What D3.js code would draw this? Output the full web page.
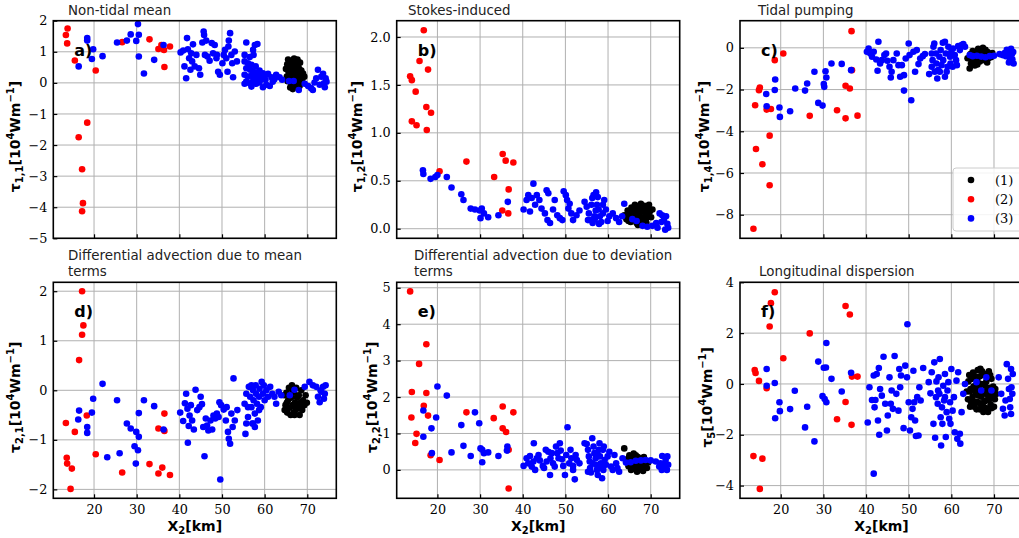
<!DOCTYPE html>
<html>
<head>
<meta charset="utf-8">
<script src="https://cdn.jsdelivr.net/npm/d3@7"></script>
<style>
  body { margin: 0; background: #fff; overflow: hidden; }
</style>
</head>
<body>
<div id="chart"></div>
<script>
// Six scatter panels of transport terms vs. X2 (km), groups (1) black, (2) red, (3) blue

const xTicks = [20, 30, 40, 50, 60, 70];
const groupLabels = ["(1)", "(2)", "(3)"];
const groupColors = ["#000000", "#ff0000", "#0000ff"];

// ---- panel a: non-tidal mean ----
const aBlack = [[65.0,0.45],[65.2,0.2],[65.3,0.6],[65.5,0.75],[65.6,0.35],[65.8,0.05],[65.9,0.55],[66.0,-0.15],[66.1,0.25],[66.3,0.7],[66.4,0.45],[66.5,0.1],[66.6,-0.2],[66.7,0.6],[66.8,0.3],[66.9,0.78],[67.0,0.0],[67.1,0.5],[67.2,0.2],[67.3,0.68],[67.4,-0.1],[67.5,0.4],[67.6,0.1],[67.7,0.75],[67.8,0.55],[67.9,0.25],[68.0,0.0],[68.1,0.45],[68.3,0.65],[68.4,0.2],[68.6,0.4],[68.8,0.1],[69.0,0.3],[69.3,0.2],[68.2,-0.1],[66.2,0.0],[65.4,0.05]];
const aRed = [[13.4,1.54],[13.8,1.75],[13.7,1.27],[15.5,0.72],[20.4,0.40],[16.4,-1.75],[18.4,-1.28],[17.2,-2.78],[17.4,-3.87],[17.2,-4.13],[26.6,1.31],[33.0,1.40],[35.1,1.09],[36.4,1.06],[36.5,0.51],[37.8,1.17],[35.8,1.22]];
const aBlue = [[16.4,0.53],[18.4,1.44],[18.4,1.36],[19.8,1.08],[19.5,0.77],[22.0,0.86],[25.4,1.30],[27.7,1.36],[28.6,1.56],[29.9,1.35],[30.3,1.89],[30.5,1.55],[30.5,0.85],[31.7,0.30],[34.1,0.74],[36.3,1.22],
  [40.3,0.98],[40.9,1.04],[41.2,0.53],[41.6,0.15],[41.8,1.44],[42.0,1.08],[42.3,0.79],[42.6,0.42],[42.8,0.95],[43.0,0.69],[43.2,1.24],[43.6,0.53],[44.0,0.90],[44.6,0.47],[44.9,0.26],[45.4,1.30],[45.7,1.65],[45.8,1.54],[46.0,0.90],[46.3,1.36],[46.6,0.85],[47.1,0.71],[47.6,1.28],[47.9,0.95],[48.3,1.22],[48.7,0.79],[48.8,0.90],[49.1,0.36],[49.5,0.26],[50.1,0.63],[50.4,0.90],[50.7,1.06],[51.0,0.79],[51.3,0.36],[51.5,1.17],[51.6,1.36],[51.9,1.60],[52.2,0.90],[52.4,0.63],[52.6,0.18],[53.0,1.01],[53.5,0.69],
  [55.7,1.30],[57.7,1.22],[58.3,1.25],[57.3,1.06],[57.4,0.90],[56.5,0.83],[55.3,0.69],[56.1,0.63],[56.9,0.58],[57.9,0.53],[55.7,0.47],[56.6,0.42],[57.3,0.36],[58.0,0.33],[58.8,0.40],[59.6,0.31],[55.3,0.26],[56.1,0.20],[56.9,0.23],[57.7,0.15],[58.4,0.18],[59.2,0.12],[60.0,0.23],[60.8,0.29],[61.6,0.18],[62.3,0.12],[55.7,0.04],[56.5,-0.01],[57.3,0.06],[58.0,-0.03],[58.8,0.01],[59.6,-0.14],[60.4,-0.06],[61.2,-0.10],[55.3,-0.03],[57.7,0.29],[58.2,0.04],[56.9,-0.12],[59.0,0.26],[60.2,0.10],[61.9,0.04],[62.7,0.26],[63.5,0.18],[64.1,0.10],[55.3,0.90],
  [65.7,0.06],[66.8,0.06],[68.0,-0.23],[70.9,-0.17],[71.3,-0.23],[72.5,0.42],[72.1,0.15],[72.9,-0.06],[73.3,0.20],[73.7,0.29],[74.1,-0.14],[74.3,0.15],[74.5,0.04],[73.9,-0.01],[71.7,0.01],[70.2,-0.10],[69.4,-0.03]];

// ---- panel b: Stokes-induced ----
const bBlack = [[63.8,0.14],[64.3,0.10],[64.6,0.19],[65.0,0.13],[65.3,0.07],[65.5,0.22],[65.8,0.16],[66.0,0.10],[66.3,0.25],[66.5,0.18],[66.7,0.06],[66.9,0.13],[67.1,0.22],[67.3,0.16],[67.5,0.09],[67.7,0.26],[67.9,0.19],[68.1,0.12],[68.3,0.05],[68.5,0.24],[68.7,0.17],[68.9,0.10],[69.1,0.21],[69.3,0.14],[69.6,0.25],[69.8,0.18],[70.1,0.12],[70.4,0.20],[66.2,0.20],[67.0,0.04],[68.0,0.22],[65.2,0.17],[64.8,0.08],[69.0,0.06]];
const bRed = [[16.8,2.07],[15.8,1.75],[17.8,1.66],[13.6,1.59],[14.0,1.55],[14.9,1.43],[17.4,1.27],[18.5,1.21],[14.0,1.12],[15.1,1.08],[17.5,1.03],[20.5,0.60],[26.8,0.70],[33.3,0.54],[35.3,0.78],[36.0,0.71],[37.8,0.69],[36.7,0.41],[35.2,0.19],[36.6,0.16]];
const bBlue = [[16.6,0.61],[16.7,0.57],[18.4,0.52],[19.5,0.54],[20.0,0.56],[22.2,0.54],[23.3,0.43],[25.6,0.36],[26.1,0.30],[27.8,0.21],[28.8,0.20],[29.9,0.19],[30.4,0.21],[30.1,0.11],[30.9,0.16],[31.9,0.12],[34.3,0.14],[36.5,0.28],
  [40.2,0.20],[41.7,0.18],[40.9,0.30],[41.3,0.35],[42.5,0.47],[42.1,0.32],[42.9,0.25],[43.3,0.35],[43.9,0.30],[44.4,0.21],[45.2,0.16],[45.6,0.40],[46.0,0.37],[45.8,0.09],[46.4,0.06],[47.1,0.20],[47.5,0.30],[48.1,0.14],[48.7,0.11],[49.3,0.09],[49.6,0.39],[50.1,0.35],[50.4,0.30],[51.0,0.26],[50.7,0.21],[51.4,0.16],[51.8,0.09],[52.6,0.14],[53.3,0.19],
  [54.5,0.28],[55.0,0.23],[55.5,0.16],[55.8,0.09],[56.3,0.32],[56.6,0.35],[57.2,0.38],[57.6,0.33],[57.4,0.25],[57.8,0.20],[58.1,0.13],[58.4,0.07],[56.8,0.13],[56.4,0.06],[55.3,0.09],[58.8,0.16],[59.5,0.20],[60.3,0.13],[61.1,0.16],[61.9,0.11],[62.6,0.07],[63.8,0.26],[63.3,0.13],[57.1,0.19],[56.1,0.25],[58.8,0.25],[59.1,0.30],[56.9,0.10],[57.9,0.05],[59.9,0.08],
  [65.7,0.10],[66.7,0.08],[68.1,0.03],[69.2,0.02],[70.4,0.03],[71.6,0.01],[72.1,0.16],[72.7,0.14],[73.1,0.09],[73.6,0.13],[73.9,0.05],[74.1,0.01],[72.5,0.07],[71.3,0.06],[73.4,-0.01]];

// ---- panel c: tidal pumping ----
const cBlack = [[63.8,-0.5],[64.3,-0.99],[64.5,-0.3],[64.8,-0.6],[65.0,-0.15],[65.3,-0.45],[65.6,-0.75],[65.8,-0.25],[66.0,-0.55],[66.3,-0.05],[66.5,-0.35],[66.7,-0.65],[67.0,-0.2],[67.2,-0.5],[67.4,0.0],[67.6,-0.3],[67.8,-0.6],[68.0,-0.1],[68.2,-0.4],[68.5,-0.2],[68.7,-0.5],[69.0,-0.3],[69.3,-0.45],[69.6,-0.25],[65.5,-0.85],[66.1,-0.8],[68.4,-0.7],[64.6,-0.75]];
const cRed = [[36.6,0.80],[20.6,-0.27],[18.6,-0.59],[15.1,-1.90],[14.9,-2.03],[14.0,-2.75],[16.7,-2.96],[17.7,-2.93],[17.4,-4.21],[14.2,-4.85],[15.7,-5.58],[17.4,-6.59],[13.6,-8.67],[26.8,-3.26],[33.2,-2.99],[35.2,-3.38],[35.2,-1.82],[36.2,-1.95],[38.0,-3.25],[36.7,-1.07]];
const cBlue = [[16.6,-2.21],[16.7,-2.80],[18.7,-1.52],[18.6,-2.02],[19.7,-2.86],[19.8,-3.31],[22.2,-3.04],[23.4,-1.95],[25.7,-2.05],[26.2,-1.71],[27.9,-1.15],[28.8,-2.64],[29.8,-2.77],[30.1,-1.74],[30.2,-1.87],[30.5,-1.12],[30.7,-1.42],[31.9,-0.75],[34.3,-0.77],[36.5,-1.07],
  [40.2,-0.19],[40.6,-0.03],[41.0,-0.27],[41.4,-0.43],[41.8,-0.19],[42.4,-0.56],[42.7,-1.10],[42.9,0.29],[43.3,-0.75],[43.7,-0.59],[44.3,-0.35],[44.7,-0.27],[45.0,-0.62],[45.5,-0.91],[45.8,-1.42],[46.0,-1.15],[46.4,-0.59],[47.2,-0.27],[47.6,-0.83],[48.0,-1.39],[48.4,-0.83],[48.9,-1.31],[48.9,-2.05],[49.3,-0.51],[50.0,0.21],[50.2,-0.35],[50.6,-2.51],[51.1,-0.19],[51.5,-1.15],[51.9,-0.11],[52.3,-0.78],[52.7,-0.51],[53.3,-0.40],[53.8,-0.30],
  [54.8,-1.26],[55.4,-0.91],[55.6,-0.59],[55.8,0.05],[56.0,0.21],[56.4,-0.27],[56.5,-0.75],[56.7,-1.47],[56.9,-1.07],[57.2,-0.43],[57.5,-0.11],[57.7,-0.83],[58.0,0.24],[58.1,-0.59],[58.5,0.29],[58.7,-0.27],[58.9,-1.15],[59.1,-0.91],[59.3,0.05],[59.7,-0.43],[59.8,-0.75],[60.0,-0.19],[60.4,-0.03],[60.8,-0.35],[61.1,-0.59],[61.6,0.08],[62.0,-0.11],[62.4,0.13],[62.8,0.18],[63.2,0.05],[61.3,-0.83],[58.5,-1.39],[57.3,-1.15],[56.1,-1.15],[55.4,-0.27],[60.3,-0.91],
  [64.3,-0.35],[65.0,-0.40],[66.0,-0.38],[67.0,-0.42],[68.0,-0.45],[69.0,-0.40],[70.0,-0.38],[71.3,-0.30],[72.0,-0.35],[72.5,-0.25],[73.0,-0.10],[73.3,-0.20],[73.6,-0.45],[73.8,-0.60],[74.0,-0.05],[74.2,-0.30],[74.5,-0.20],[74.6,-0.75],[73.5,-0.70],[72.8,-0.40],[74.3,-0.55]];

// ---- panel d: differential advection, mean terms ----
const dBlack = [[64.6,-0.1],[64.9,-0.3],[65.1,-0.05],[65.3,-0.45],[65.5,-0.2],[65.7,0.05],[65.9,-0.35],[66.1,-0.5],[66.2,-0.15],[66.4,0.1],[66.6,-0.3],[66.8,-0.45],[66.9,-0.05],[67.1,-0.25],[67.3,-0.4],[67.4,0.05],[67.6,-0.15],[67.8,-0.35],[68.0,-0.1],[68.2,-0.5],[68.4,-0.25],[68.6,0.0],[68.8,-0.4],[69.0,-0.2],[69.3,-0.3],[69.6,-0.1],[69.9,-0.25],[65.2,-0.25],[66.0,-0.1],[67.0,-0.5],[68.1,-0.3],[66.5,0.0],[64.7,-0.4]];
const dRed = [[17.2,2.0],[17.5,1.31],[17.2,1.12],[16.5,0.61],[18.3,-0.51],[13.4,-0.66],[15.5,-0.84],[13.6,-1.36],[13.7,-1.48],[14.8,-1.58],[14.5,-1.99],[20.4,-1.29],[26.6,-1.66],[33.0,-1.49],[35.1,-0.77],[35.1,-1.68],[36.0,-1.56],[36.5,-0.47],[36.5,-0.82],[37.8,-1.71]];
const dBlue = [[16.5,-0.41],[16.3,-0.59],[18.4,-0.74],[18.4,-0.86],[19.5,-0.45],[19.8,-0.17],[22.0,0.13],[23.1,-1.35],[25.4,-0.20],[26.0,-1.27],[27.7,-0.67],[28.6,-0.77],[29.5,-1.13],[29.9,-0.84],[30.5,-0.94],[29.8,-1.48],[30.3,-1.21],[30.5,-0.46],[31.7,-0.20],[34.1,-0.32],[36.3,-0.79],
  [40.2,-0.45],[40.9,-0.62],[41.3,-0.26],[41.6,-0.07],[41.9,-0.37],[42.0,-1.06],[42.2,-0.72],[42.4,-0.51],[42.7,-0.30],[43.0,-0.61],[43.4,-0.79],[43.8,0.01],[44.2,-0.40],[44.7,-0.34],[45.0,-0.13],[45.3,-0.28],[45.6,-0.74],[45.9,-1.33],[46.2,-0.57],[46.5,-0.71],[46.8,-0.81],[47.3,-0.61],[47.7,-0.79],[48.0,-0.51],[48.4,-0.57],[48.8,-0.47],[49.2,-0.54],[49.4,-0.24],[49.6,-1.80],[49.8,-0.30],[50.4,-0.39],[50.9,-0.61],[51.1,-0.34],[51.4,-0.84],[51.6,-0.98],[51.9,-1.08],[52.2,-0.47],[52.5,-0.74],[52.7,0.24],[53.0,-0.61],[53.6,-0.40],
  [55.5,-0.88],[55.3,-0.27],[55.7,-0.07],[56.1,-0.54],[56.3,0.07],[56.6,-0.13],[56.9,-0.34],[57.1,-0.67],[57.3,0.00],[57.4,-0.20],[57.7,-0.47],[57.9,0.10],[58.0,-0.07],[58.2,-0.27],[58.4,-0.61],[58.7,-0.13],[58.8,0.03],[59.1,-0.34],[59.3,0.17],[59.6,-0.07],[60.0,-0.20],[60.4,0.00],[60.8,-0.13],[61.3,0.07],[61.8,-0.07],[62.3,-0.13],[62.7,-0.27],[63.3,-0.03],[63.9,-0.10],[57.3,-0.67],[56.1,-0.34],[58.7,-0.40],[57.7,-0.74],[55.7,-0.67],[56.9,0.10],[59.8,0.10],
  [65.9,-0.10],[67.0,0.01],[70.5,0.17],[71.3,0.10],[72.1,0.07],[72.5,-0.13],[72.9,-0.24],[73.3,-0.03],[73.7,0.07],[74.1,-0.07],[74.3,0.10],[73.9,-0.17],[73.1,0.00],[69.4,0.07]];

// ---- panel e: differential advection, deviation terms ----
const eBlack = [[63.8,0.59],[64.6,0.3],[64.8,0.1],[65.0,0.4],[65.2,0.2],[65.4,0.0],[65.6,0.35],[65.8,0.15],[66.0,0.45],[66.2,0.05],[66.4,0.28],[66.6,0.12],[66.8,-0.05],[67.0,0.35],[67.2,0.18],[67.4,0.02],[67.6,0.3],[67.8,0.1],[68.0,0.22],[68.2,-0.03],[68.4,0.35],[68.6,0.12],[68.8,0.25],[69.1,0.05],[69.4,0.2],[65.5,0.25],[66.5,0.4],[67.5,0.15],[68.3,0.08],[66.9,0.22]];
const eRed = [[13.6,4.90],[17.4,3.45],[15.7,2.91],[14.0,2.14],[17.4,2.11],[16.8,1.76],[17.8,1.49],[13.9,1.44],[15.1,0.99],[14.8,0.74],[18.4,0.40],[20.5,0.27],[26.8,1.58],[33.2,1.42],[35.3,1.74],[35.3,1.14],[36.1,1.04],[36.7,0.55],[36.7,-0.51],[37.8,1.58]];
const eBlue = [[16.7,1.63],[16.7,0.91],[18.6,1.14],[18.7,0.46],[19.7,1.44],[20.0,2.29],[22.2,2.04],[23.3,0.48],[25.6,1.23],[26.1,0.66],[27.8,0.38],[28.8,1.58],[29.8,1.28],[30.1,0.59],[30.5,0.55],[30.5,0.21],[30.9,0.46],[31.9,0.48],[34.3,0.38],[36.4,0.64],[36.3,0.53],
  [40.2,0.11],[40.9,0.32],[41.3,0.18],[41.7,0.38],[42.1,0.09],[42.5,0.23],[42.6,0.73],[42.9,0.00],[43.3,0.32],[43.7,0.41],[44.0,0.26],[44.7,0.11],[45.0,0.05],[45.4,0.55],[45.6,0.23],[46.0,0.50],[46.4,-0.14],[46.5,0.32],[46.8,0.46],[47.1,0.18],[47.5,0.09],[47.8,0.64],[48.1,0.46],[48.4,0.32],[48.7,0.73],[48.9,0.53],[49.2,0.29],[49.5,0.11],[49.9,-0.14],[50.2,0.41],[50.5,1.17],[50.9,0.18],[51.2,0.55],[51.4,0.32],[51.8,0.11],[52.2,-0.26],[52.4,0.41],[52.7,0.27],[53.3,0.18],[51.8,0.00],
  [54.5,0.73],[55.0,0.71],[55.3,0.55],[55.5,0.37],[55.7,0.23],[55.8,0.05],[56.0,-0.07],[56.3,0.87],[56.6,0.64],[56.8,0.46],[57.1,0.32],[57.2,0.14],[57.4,0.00],[57.6,-0.14],[57.8,0.55],[58.0,0.73],[58.1,0.37],[58.3,0.18],[58.4,0.05],[58.6,-0.23],[58.8,0.55],[59.0,0.64],[59.2,0.27],[59.5,0.14],[59.9,0.37],[60.3,0.50],[60.7,0.09],[61.1,0.00],[61.5,0.41],[61.9,0.18],[62.2,0.05],[62.6,-0.05],[63.4,0.32],[56.4,0.18],[57.5,0.46],[58.9,0.00],[55.3,-0.05],
  [64.2,0.20],[65.3,0.21],[66.5,0.25],[67.7,0.26],[68.8,0.27],[70.0,0.26],[71.2,0.23],[72.0,0.09],[72.3,0.18],[72.7,0.38],[73.1,0.05],[73.5,0.27],[73.9,0.37],[74.1,0.14],[73.4,0.18],[72.6,0.00],[73.8,0.00]];

// ---- panel f: longitudinal dispersion ----
const fBlack = [[64.0,0.1],[64.3,-0.3],[64.6,-0.7],[64.8,0.2],[65.0,-0.5],[65.2,-0.1],[65.4,-0.9],[65.6,0.3],[65.8,-0.35],[66.0,-0.7],[66.2,0.55],[66.4,-0.15],[66.6,-1.0],[66.8,0.6],[67.0,-0.5],[67.1,0.0],[67.3,-0.8],[67.5,-1.1],[67.6,0.35],[67.8,-0.3],[68.0,-0.65],[68.2,0.1],[68.4,-1.0],[68.6,-0.45],[68.8,0.5],[69.0,-0.15],[69.2,-0.8],[69.4,0.2],[69.7,-0.5],[70.0,-0.9],[70.3,-0.2],[65.3,0.3],[66.3,-0.45],[67.9,-0.05],[69.5,-0.95],[64.5,-0.2],
  [63.6,-0.3],[63.9,-0.6],[64.2,0.35],[64.4,-0.9],[64.9,-0.25],[65.1,0.45],[65.3,-0.7],[65.7,-0.05],[65.9,-1.0],[66.1,0.15],[66.5,-0.75],[66.7,0.3],[66.9,-0.25],[67.2,0.5],[67.4,-0.4],[67.7,-0.7],[68.1,-0.95],[68.3,0.4],[68.5,-0.2],[68.9,-0.6],[69.1,0.35],[69.3,-0.35],[69.8,-0.1],[70.2,-0.6],[70.5,-0.4],[66.0,-0.2],[67.0,-0.95],[68.6,-1.1]];
const fRed = [[18.6,3.61],[17.7,3.18],[17.4,2.26],[13.9,0.55],[14.1,0.43],[14.9,0.12],[16.7,-0.17],[20.6,1.01],[26.8,1.99],[35.2,3.07],[36.2,2.73],[35.2,-0.71],[33.2,-1.39],[36.7,0.29],[38.0,0.29],[36.6,-1.61],[13.6,-2.84],[15.7,-2.94],[15.1,-4.13]];
const fBlue = [[16.7,0.59],[16.7,-0.07],[18.6,0.04],[18.7,-1.35],[19.7,-0.72],[19.8,-1.07],[22.2,-0.99],[23.3,-0.27],[25.7,-1.71],[26.2,-0.90],[27.9,-2.26],[28.8,0.88],[29.8,-0.48],[30.1,0.64],[30.6,0.65],[30.3,-0.59],[30.7,-0.72],[30.7,1.61],[31.9,0.20],[34.3,-0.30],[36.5,0.44],
  [40.4,-1.52],[40.8,-0.13],[41.4,-0.63],[41.8,0.33],[42.0,-0.92],[42.2,-0.63],[42.5,0.39],[42.8,-1.44],[43.0,0.63],[43.1,-2.00],[43.3,-0.20],[43.7,-0.46],[44.1,1.07],[44.5,-0.78],[44.9,-1.83],[45.1,-1.24],[45.5,0.26],[45.8,-0.78],[46.0,-0.26],[46.3,-0.98],[46.7,1.10],[47.1,-0.39],[47.6,-1.05],[47.8,0.59],[48.0,-0.13],[48.2,0.33],[48.8,-1.74],[49.2,0.72],[49.6,0.26],[49.7,2.35],[50.0,-0.72],[50.3,-1.83],[50.6,-1.31],[50.9,-0.98],[51.1,0.52],[51.3,-0.72],[51.5,-1.44],[51.7,-2.05],[52.0,-0.52],[52.3,-2.03],[52.5,-0.13],[52.8,-0.65],[53.4,0.63],[41.8,-3.53],
  [54.7,0.07],[55.1,-0.37],[55.4,0.46],[55.8,-1.57],[56.0,0.85],[56.2,-2.12],[56.4,-0.52],[56.5,0.10],[56.8,-0.78],[57.0,0.26],[57.2,-0.39],[57.3,0.98],[57.5,-1.31],[57.6,-2.42],[57.8,-0.92],[57.9,-1.57],[58.1,-0.07],[58.3,-0.65],[58.5,0.39],[58.7,-2.09],[58.9,-1.11],[59.1,-0.26],[59.3,0.07],[59.7,-0.72],[59.8,-1.57],[60.0,0.59],[60.3,-1.05],[60.6,-0.52],[60.8,-1.90],[61.2,0.13],[61.4,-2.16],[61.6,0.46],[62.0,-1.96],[62.1,-2.35],[62.4,-1.11],[62.8,-0.39],[63.2,0.00],[58.5,-0.52],[56.9,-0.26],[59.5,-1.37],
  [65.9,0.07],[67.0,-0.26],[68.2,0.26],[69.4,-0.26],[71.1,0.26],[71.7,-0.39],[72.1,-0.98],[72.5,-1.24],[72.7,-0.65],[73.0,0.78],[73.3,0.20],[73.5,-0.20],[73.7,-0.59],[73.8,-0.92],[74.0,-1.18],[74.0,0.59],[74.1,-0.13],[74.3,-0.39],[74.4,0.39]];

// axis settings per panel
const titles = [["Non-tidal mean"], ["Stokes-induced"], ["Tidal pumping"],
  ["Differential advection due to mean", "terms"], ["Differential advection due to deviation", "terms"], ["Longitudinal dispersion"]];
const tags = ["a)", "b)", "c)", "d)", "e)", "f)"];
const ySubs = ["1,1", "1,2", "1,4", "2,1", "2,2", "5"];
const yDomains = [[-5, 2], [-0.1, 2.17], [-9.13, 1.3], [-2.18, 2.18], [-0.78, 5.15], [-4.5, 4.0]];
const yTicks = [[-5, -4, -3, -2, -1, 0, 1, 2], [0, 0.5, 1, 1.5, 2], [-8, -6, -4, -2, 0],
  [-2, -1, 0, 1, 2], [0, 1, 2, 3, 4, 5], [-4, -2, 0, 2, 4]];
const yFormats = [".0f", ".1f", ".0f", ".0f", ".0f", ".0f"];
const seriesByPanel = [[aBlack, aRed, aBlue], [bBlack, bRed, bBlue], [cBlack, cRed, cBlue],
  [dBlack, dRed, dBlue], [eBlack, eRed, eBlue], [fBlack, fRed, fBlue]];

// layout (pixels)
const width = 1019, height = 538;
const colLeft = [53.3, 396.7, 740];
const rowTop = [20.7, 282.3];
const rowH = [217.6, 216];
const panelW = 283;
const titleX = [68, 408, 758, 68, 414, 759];
const ylabX = [15, 357, 704, 15, 372, 707];

const tickFont = "'DejaVu Serif', serif";
const sansFont = "'DejaVu Sans', sans-serif";

const svg = d3.select("#chart").append("svg")
  .attr("width", width)
  .attr("height", height);

seriesByPanel.forEach((series, i) => {
  const col = i % 3, row = Math.floor(i / 3);
  const left = colLeft[col], top = rowTop[row], h = rowH[row];

  const x = d3.scaleLinear().domain([10.45, 76.8]).range([0, panelW]);
  const y = d3.scaleLinear().domain(yDomains[i]).range([h, 0]);

  const g = svg.append("g").attr("transform", `translate(${left},${top})`);

  // grid
  g.append("g").selectAll("line.gx").data(xTicks).enter().append("line")
    .attr("x1", d => x(d)).attr("x2", d => x(d)).attr("y1", 0).attr("y2", h)
    .attr("stroke", "#b0b0b0").attr("stroke-width", 1);
  g.append("g").selectAll("line.gy").data(yTicks[i]).enter().append("line")
    .attr("y1", d => y(d)).attr("y2", d => y(d)).attr("x1", 0).attr("x2", panelW)
    .attr("stroke", "#b0b0b0").attr("stroke-width", 1);

  // points: (1) black, (2) red, (3) blue on top
  const clipId = "clip" + i;
  g.append("clipPath").attr("id", clipId).append("rect")
    .attr("width", panelW).attr("height", h);
  const pts = g.append("g").attr("clip-path", `url(#${clipId})`);
  series.forEach((data, k) => {
    pts.append("g").selectAll("circle").data(data).enter().append("circle")
      .attr("cx", d => x(d[0]))
      .attr("cy", d => y(d[1]))
      .attr("r", 3.3)
      .attr("fill", groupColors[k]);
  });

  // axes with inward ticks
  const fmt = d3.format(yFormats[i]);
  const yAxis = g.append("g")
    .call(d3.axisLeft(y).tickValues(yTicks[i]).tickSize(-4).tickPadding(6)
      .tickFormat(d => fmt(d).replace("-", "\u2212")));
  const xAxis = g.append("g")
    .attr("transform", `translate(0,${h})`)
    .call(d3.axisBottom(x).tickValues(xTicks).tickSize(-4).tickPadding(7)
      .tickFormat(d => row === 1 ? d : ""));
  [yAxis, xAxis].forEach(a => {
    a.select(".domain").remove();
    a.selectAll("line").attr("stroke", "#000").attr("stroke-width", 1.2);
    a.selectAll("text").attr("font-family", tickFont).attr("font-size", "12.8px").attr("fill", "#000");
  });

  // frame
  g.append("rect").attr("width", panelW).attr("height", h)
    .attr("fill", "none").attr("stroke", "#000").attr("stroke-width", 1.6);

  // panel tag
  g.append("text").attr("x", 21).attr("y", 35)
    .attr("font-family", sansFont).attr("font-weight", "bold").attr("font-size", "16px")
    .text(tags[i]);

  // title (left aligned, maybe two lines)
  const tLines = titles[i];
  tLines.forEach((t, j) => {
    svg.append("text")
      .attr("x", titleX[i])
      .attr("y", top - 6 - (tLines.length - 1 - j) * 16.5)
      .attr("font-family", sansFont).attr("font-size", "13.4px").attr("fill", "#222")
      .text(t);
  });

  // y label
  const yl = svg.append("text")
    .attr("transform", `translate(${ylabX[i] + 5},${top + h / 2 + 7}) rotate(-90)`)
    .attr("text-anchor", "middle")
    .attr("font-family", sansFont).attr("font-weight", "bold").attr("font-size", "14px");
  yl.append("tspan").text("\u03c4");
  yl.append("tspan").attr("font-size", "10px").attr("dy", 3).text(ySubs[i]);
  yl.append("tspan").attr("dy", -3).text("[10");
  yl.append("tspan").attr("font-size", "10px").attr("dy", -6).text("4");
  yl.append("tspan").attr("dy", 6).text("Wm");
  yl.append("tspan").attr("font-size", "10px").attr("dy", -6).text("\u22121");
  yl.append("tspan").attr("dy", 6).text("]");

  // x label on bottom row
  if (row === 1) {
    const xl = svg.append("text")
      .attr("x", left + panelW / 2).attr("y", top + h + 33)
      .attr("text-anchor", "middle")
      .attr("font-family", sansFont).attr("font-weight", "bold").attr("font-size", "14px");
    xl.append("tspan").text("X");
    xl.append("tspan").attr("font-size", "10px").attr("dy", 3).text("2");
    xl.append("tspan").attr("dy", -3).text("[km]");
  }
});

// legend in panel c
const leg = svg.append("g").attr("transform", "translate(953,168)");
leg.append("rect").attr("width", 80).attr("height", 63).attr("rx", 3)
  .attr("fill", "#fff").attr("fill-opacity", 0.85).attr("stroke", "#cccccc");
groupLabels.forEach((lab, k) => {
  leg.append("circle").attr("cx", 18).attr("cy", 12 + k * 19.2).attr("r", 3.3).attr("fill", groupColors[k]);
  leg.append("text").attr("x", 42).attr("y", 12 + k * 19.2).attr("dy", "0.35em")
    .attr("font-family", tickFont).attr("font-size", "13px").text(lab);
});
</script>
</body>
</html>
